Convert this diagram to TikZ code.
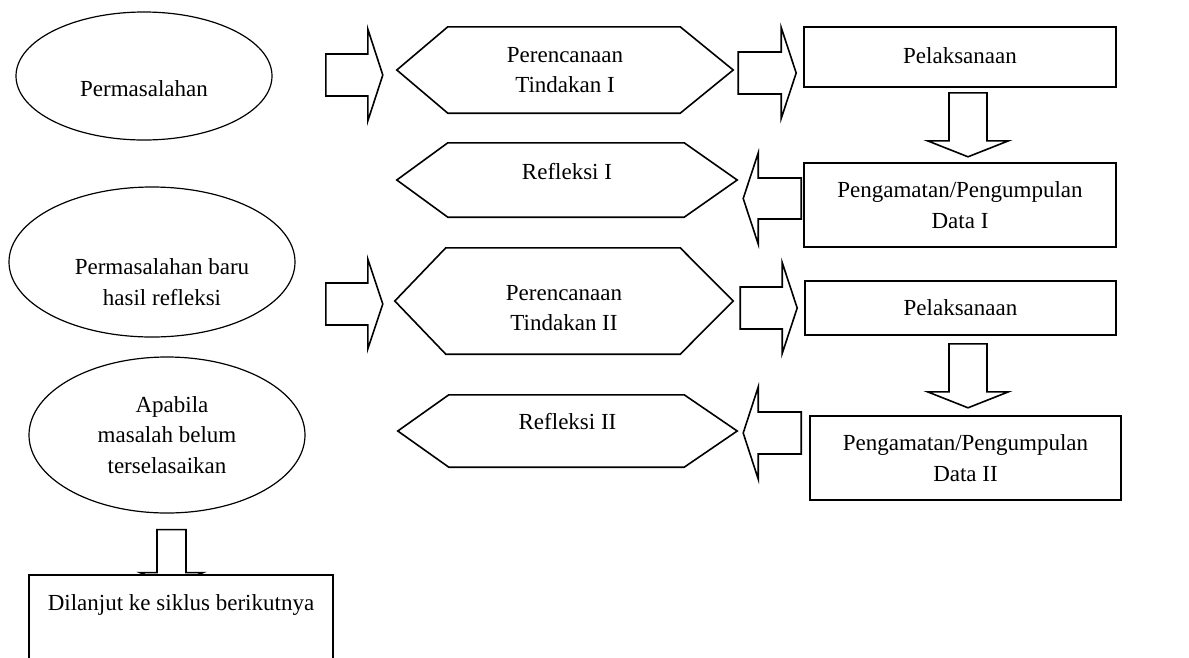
\documentclass[tikz,border=0pt]{standalone}
\usepackage{fontspec}
\setmainfont{Liberation Serif}
\usepackage{tikz}
\usetikzlibrary{shapes.geometric}

\tikzset{
  pics/blockarrow/.style args={#1/#2/#3/#4}{code={
    \draw[line width=1.6pt,fill=white] (0,-#2) -- (#1,-#2) -- (#1,-#3) -- (#1+#4,0)
      -- (#1,#3) -- (#1,#2) -- (0,#2) -- cycle;
  }}
}

\begin{document}
\begin{tikzpicture}
  [x=1pt,y=-1pt,
   every node/.style={font=\fontsize{23}{30.5}\selectfont,align=center,inner sep=0pt},
   oval/.style={ellipse,draw,line width=1.2pt},
   box/.style={rectangle,draw,line width=1.6pt},
   hexa/.style={rectangle},
   txt/.style={align=center}]
  \clip (0,0) rectangle (1189,657);

  % left column
  \node[oval,minimum width=256,minimum height=128,
        label={[txt,yshift=-13pt]center:Permasalahan}] (perm) at (144,76) {};
  \node[oval,minimum width=286,minimum height=150,
        label={[txt,xshift=10pt,yshift=-20pt]center:Permasalahan baru\\hasil refleksi}] (permb) at (152,262) {};
  \node[oval,minimum width=276,minimum height=156] (apa) at (167,435) {\hspace*{10pt}Apabila\\masalah belum\\terselasaikan};

  % hexagons
  \node[hexa,minimum width=336,minimum height=86] (plan1) at (565,70) {Perencanaan\\Tindakan I};
  \node[hexa,minimum width=340,minimum height=74,
        label={[yshift=8.5pt]center:Refleksi I}] (refl1) at (567,180) {};
  \node[hexa,minimum width=338,minimum height=106,
        label={[txt,yshift=-7pt]center:Perencanaan\\Tindakan II}] (plan2) at (564,301) {};
  \node[hexa,minimum width=339,minimum height=72,
        label={[yshift=9.5pt]center:Refleksi II}] (refl2) at (567.5,431) {};

  \foreach \n in {plan1,refl1,plan2,refl2}
    \draw[line width=1.6pt] ([xshift=51pt]\n.north west) -- ([xshift=-53pt]\n.north east)
      -- (\n.east) -- ([xshift=-53pt]\n.south east) -- ([xshift=51pt]\n.south west)
      -- (\n.west) -- cycle;

  % right column
  \node[box,minimum width=312,minimum height=60] (pel1) at (960,57) {\raisebox{3pt}{Pelaksanaan}};
  \node[box,minimum width=312,minimum height=84] (amat1) at (960,205) {Pengamatan/Pengumpulan\\Data I};
  \node[box,minimum width=311,minimum height=54] (pel2) at (960.5,308) {Pelaksanaan};
  \node[box,minimum width=311,minimum height=84] (amat2) at (965.5,458) {Pengamatan/Pengumpulan\\Data II};

  % block arrows
  \path (plan1.west) ++(-71,5) pic {blockarrow=42/21/46/15};
  \path (pel1.west) ++(-65,16) pic {blockarrow=43/21/45.5/15};
  \path (plan2.west) ++(-69,3) pic {blockarrow=42/21/45/15};
  \path (pel2.west) ++(-64,0) pic {blockarrow=42/21/45.5/15};
  \path (pel1.south) ++(8,5) pic[rotate=-90] {blockarrow=48/19/40.5/16};
  \path (pel2.south) ++(7.5,8) pic[rotate=-90] {blockarrow=48/19/40.5/16};
  \path (amat1.west) ++(-2,-6.5) pic[rotate=180] {blockarrow=43/20.5/45.5/15};
  \path (amat2.west) ++(-8,-25) pic[rotate=180] {blockarrow=43/21/46/15};
  \path (apa.south) ++(4.5,16) pic[rotate=-90] {blockarrow=43/14.5/31.5/14};

  % last step
  \node[box,fill=white,minimum width=304,anchor=north,text height=36pt,text depth=100pt]
    (lanjut) at (181,574) {Dilanjut ke siklus berikutnya};
\end{tikzpicture}
\end{document}
